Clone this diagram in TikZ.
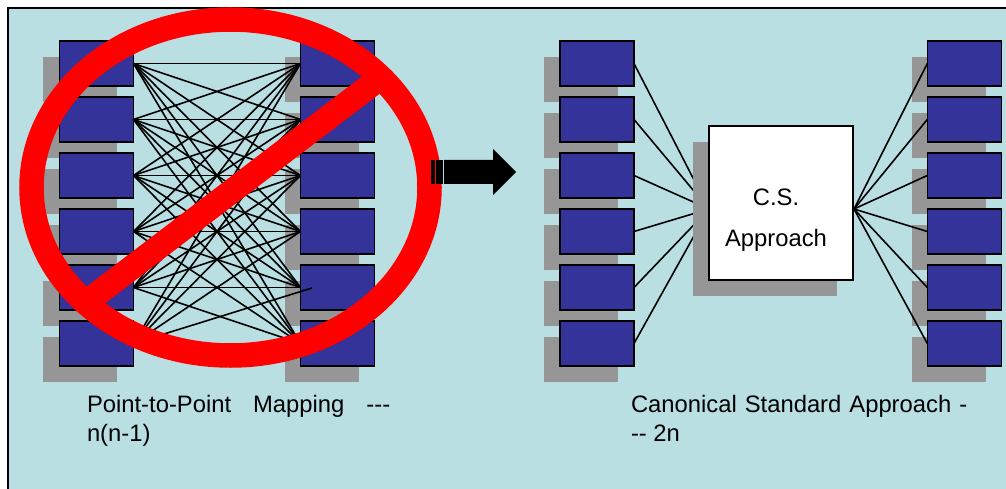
\documentclass[tikz,border=0pt]{standalone}
\usepackage{fontspec}
\setmainfont{Liberation Sans}
\usepackage{tikz}
\definecolor{fondo}{HTML}{B9DFE3}
\definecolor{azul}{HTML}{333399}
\definecolor{gris}{HTML}{969696}
\tikzstyle{bloque}=[draw=black,fill=azul,line width=1.6pt,inner sep=0pt,outer sep=0pt,minimum width=74pt,minimum height=45pt]
\tikzstyle{sombra}=[fill=gris,inner sep=0pt,outer sep=0pt,minimum width=74pt,minimum height=45pt]
\tikzstyle{rotulo}=[inner sep=0pt,outer sep=0pt,align=left,anchor=north west,font=\fontsize{23.8}{28.7}\selectfont]

\begin{document}
\begin{tikzpicture}[x=1pt,y=-1pt,line width=1.6pt]
    \useasboundingbox (0,0) rectangle (1006,489);
    \fill [fondo] (8,8) rectangle (1006,489);
    \draw [line width=2pt] (8,489) -- (8,8) -- (1006,8);

    \foreach \i/\y in {1/63.5,2/119.5,3/175.5,4/231.5,5/287.5,6/343.5} {
        \node [sombra] (sa\i) at (80,\y+16) {};
        \node [sombra] (sb\i) at (322,\y+16) {};
        \node [sombra] (sc\i) at (581,\y+16) {};
        \node [sombra] (sd\i) at (949,\y+16) {};
    }
    \foreach \i/\y in {1/63.5,2/119.5,3/175.5,4/231.5,5/287.5,6/343.5} {
        \node [bloque] (a\i) at (96.5,\y) {};
        \node [bloque] (b\i) at (337.5,\y) {};
        \node [bloque] (c\i) at (597,\y) {};
        \node [bloque] (d\i) at (964.3,\y) {};
    }

    \foreach \i/\lista in {1/{1,2,3,4,5,6},2/{1,2,3,4,5,6},3/{1,2,3,4,5,6},4/{1,2,3,4,5,6},5/{1,2,3,4,5,6},6/{1,2,3,4,6}}
        \foreach \j in \lista
            \draw (a\i.east) -- (b\j.west);
    \coordinate (resto) at (312,288);
    \draw (a6.east) -- (resto);

    \coordinate (entrada) at (709,209);
    \coordinate (salida) at (854,209);
    \foreach \i in {1,...,6} {
        \draw (c\i.east) -- (entrada);
        \draw (salida) -- (d\i.west);
    }

    \node [sombra,minimum width=144pt,minimum height=154pt] (scs) at (765,219) {};
    \node [draw=black,fill=white,line width=2pt,inner sep=0pt,outer sep=0pt,minimum width=144pt,minimum height=154pt] (cs) at (781,203) {};
    \node [rotulo,anchor=base] (csuno) at (776,205) {C.S.};
    \node [rotulo,anchor=base] (csdos) at (776,246) {Approach};

    \draw [red,line width=24.5pt] (230.5,187.5) ellipse [x radius=199,y radius=168];
    \draw [red,line width=24.5pt] (84,304) -- (384,75);

    \fill (431,160) rectangle (435,184);
    \fill (436,160) rectangle (443,184);
    \fill (444,160) -- (493,160) -- (493,149) -- (516,172) -- (493,195) -- (493,184) -- (444,184) -- cycle;

    \node [rotulo] (izq) at (87,395.5) {Point-to-Point\hspace*{22pt}Mapping\hspace*{22pt}-\kern0pt-\kern0pt-\\n(n-1)};
    \node [rotulo] (der) at (631,395.5) {\spaceskip=8pt Canonical Standard Approach -\\-\kern0pt- 2n};
\end{tikzpicture}
\end{document}
